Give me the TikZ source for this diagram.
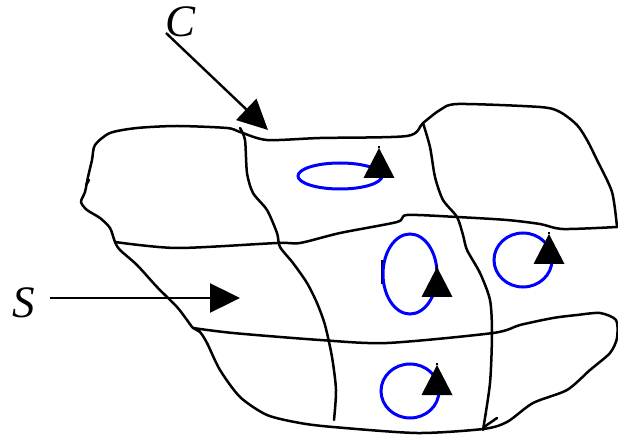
\documentclass[tikz,border=0pt]{standalone}
\usepackage{fontspec}
\setmainfont{Liberation Serif}
\usetikzlibrary{arrows.meta,positioning}

\begin{document}
\begin{tikzpicture}[
    x=1pt, y=-1pt,
    edge/.style={line width=2.5pt, line cap=round, line join=round},
    loopline/.style={blue, line width=3pt},
    pointer/.style={line width=2.4pt, -{Triangle[length=30pt, width=29pt]}},
    lab/.style={font=\fontsize{45}{45}\selectfont\itshape, inner sep=0pt},
    spin/.pic={
        \fill (0,0) -- (-15.5,30) -- (15.5,30) -- cycle;
        \draw[line width=1.5pt] (0,0) -- (0,-2);
    }
]
    \useasboundingbox (0,0) rectangle (618,435);

    % outer rim and lower cross line
    \draw[edge] plot[smooth, tension=0.45] coordinates {
        (617,227) (612,192) (597,160) (587,140) (577,125) (560,112) (540,107)
        (458,104) (440,110) (423,123) (407,136) (320,138) (267,140) (240,132)
        (227,128) (177,126) (137,128) (110,133) (95,145) (92,160) (88,177)
        (85,192) (81,202) (87,210) (100,218) (110,228) (115,242) (120,250)
        (137,265) (157,287) (177,307) (187,320) (193,328) (200,332) (207,343)
        (220,370) (240,397) (267,415) (300,423) (333,427) (417,433) (483,429)
        (507,422) (533,403) (567,390) (590,370) (610,353) (617,338) (616,320)
        (600,313) (577,315) (553,318) (520,325) (493,333) (387,343) (320,340)
        (233,333) (193,328)};

    % upper cross line
    \draw[edge] plot[smooth, tension=0.45] coordinates {
        (617,227) (563,229) (540,224) (507,220) (457,217) (407,215) (397,222)
        (340,233) (300,243) (277,243) (177,248) (115,242)};

    % the two long lines
    \draw[edge] plot[smooth, tension=0.45] coordinates {
        (240,128) (245,140) (247,173) (253,193) (267,210) (277,233) (280,247)
        (293,263) (307,283) (317,303) (325,325) (332,357) (336,390) (334,420)};
    \draw[edge] plot[smooth, tension=0.45] coordinates {
        (423,123) (430,147) (435,177) (443,200) (457,217) (463,235) (467,250)
        (480,273) (490,300) (492,333) (490,383) (483,430)};

    % small strokes
    \draw[edge] (86,185) -- (89,180);
    \draw[edge] (484,427) -- (497,418);
    \draw[line width=3pt] (382,260) -- (382,284);

    % loops
    \draw[loopline] (340,176) ellipse [x radius=42, y radius=13];
    \draw[loopline] (410,274) ellipse [x radius=27, y radius=40];
    \draw[loopline] (523,260) ellipse [x radius=29, y radius=27];
    \draw[loopline] (410,391) ellipse [x radius=29, y radius=27];

    \pic at (379,148) {spin};
    \pic at (437,267) {spin};
    \pic at (549,234) {spin};
    \pic at (437,365) {spin};

    % labels and pointers
    \node[lab] (labC) at (181,22) {C};
    \node[lab] (labS) at (24,303) {S};
    \coordinate (cTail) at (166,33);
    \coordinate (cTip) at (268,130);
    \coordinate (sTail) at (50,298);
    \coordinate (sTip) at (240,298);
    \draw[pointer] (cTail) -- (cTip);
    \draw[pointer] (sTail) -- (sTip);
\end{tikzpicture}
\end{document}
